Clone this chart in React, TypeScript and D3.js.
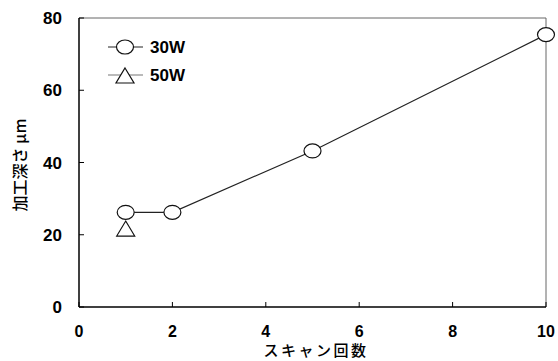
import * as d3 from 'd3';

// データ
const scans30 = [1, 2, 5, 10];
const depth30 = [26.2, 26.2, 43.2, 75.4];
const scans50 = [1];
const depth50 = [21.3];
const xTicks = [0, 2, 4, 6, 8, 10];
const yTicks = [0, 20, 40, 60, 80];

const W = 558;
const H = 361;
const margin = { top: 18, right: 12, bottom: 54, left: 79 };
const font = '"Liberation Sans", "Noto Sans CJK JP", sans-serif';
const jpFont = '"Noto Sans CJK JP", sans-serif';

const Circle = ({ x, y }: { x: number; y: number }) => (
  <ellipse cx={x} cy={y} rx={8.5} ry={7} fill="#fff" stroke="#111" strokeWidth={1.2} />
);

const Tri = ({ x, y }: { x: number; y: number }) => (
  <path d={`M${x},${y - 9} L${x + 9},${y + 6} L${x - 9},${y + 6} Z`} fill="#fff" stroke="#111" strokeWidth={1.2} />
);

export default function App() {
  const x = d3.scaleLinear().domain([0, 10]).range([margin.left, W - margin.right]);
  const y = d3.scaleLinear().domain([0, 80]).range([H - margin.bottom, margin.top]);

  const line = d3.line<number>()
    .x((_, i) => x(scans30[i]))
    .y(d => y(d));

  const x0 = x(0), x1 = x(10), y0 = y(0), y1 = y(80);

  return (
    <svg width={W} height={H} style={{ position: 'absolute', left: 0, top: 0, background: '#fff' }}
      fontFamily={font} fontWeight="bold">
      {/* 枠 */}
      <line x1={x0} y1={y1} x2={x1} y2={y1} stroke="#666" strokeWidth={1} />
      <line x1={x1} y1={y1} x2={x1} y2={y0} stroke="#666" strokeWidth={1} />
      <line x1={x0} y1={y0} x2={x1} y2={y0} stroke="#000" strokeWidth={1.5} />
      <line x1={x0} y1={y0} x2={x0} y2={y1} stroke="#000" strokeWidth={1.5} />

      {yTicks.map(t => (
        <g key={'y' + t}>
          <line x1={x0} x2={x0 + 5} y1={y(t)} y2={y(t)} stroke="#000" strokeWidth={1} />
          <text x={62} y={y(t)} dy="0.36em" textAnchor="end" fontSize={17}>{t}</text>
        </g>
      ))}
      {xTicks.map(t => (
        <g key={'x' + t}>
          <line x1={x(t)} x2={x(t)} y1={y0} y2={y0 - 5} stroke="#000" strokeWidth={1} />
          <text x={x(t)} y={331} dy="0.36em" textAnchor="middle" fontSize={16}>{t}</text>
        </g>
      ))}

      <text x={316} y={356} textAnchor="middle" fontSize={15} letterSpacing={2.5}
        fontFamily={jpFont} fontWeight={500}>スキャン回数</text>
      <text transform={`translate(20,165) rotate(-90)`} dy="0.36em" textAnchor="middle" fontSize={16}
        fontFamily={jpFont} fontWeight={500}>加工深さ μm</text>

      <path d={line(depth30) ?? ''} fill="none" stroke="#222" strokeWidth={1.2} />
      {depth30.map((d, i) => <Circle key={'c' + i} x={x(scans30[i])} y={y(d)} />)}
      {depth50.map((d, i) => <Tri key={'t' + i} x={x(scans50[i])} y={y(d)} />)}

      {/* 凡例 */}
      <line x1={108} x2={143} y1={47} y2={47} stroke="#222" strokeWidth={1.2} />
      <Circle x={125} y={47} />
      <text x={150} y={47} dy="0.36em" fontSize={17}>30W</text>
      <line x1={108} x2={143} y1={75} y2={75} stroke="#777" strokeWidth={1.2} />
      <Tri x={125} y={77} />
      <text x={150} y={75} dy="0.36em" fontSize={17}>50W</text>
    </svg>
  );
}
